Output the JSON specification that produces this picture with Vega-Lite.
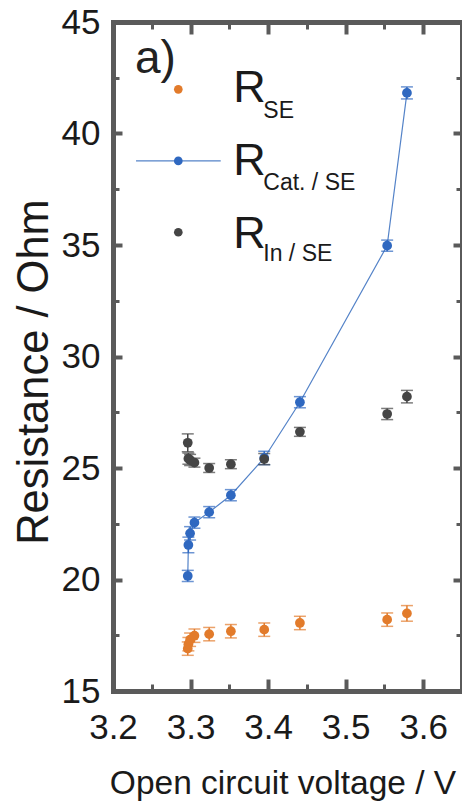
{
  "$schema": "https://vega.github.io/schema/vega-lite/v6.json",
  "width": 349,
  "height": 669,
  "autosize": {"type": "none"},
  "padding": {"left": 113, "top": 22, "right": 0, "bottom": 112},
  "background": "white",
  "config": {
    "view": {"stroke": null},
    "axis": {
      "grid": false,
      "domainColor": "#5a5a5a",
      "tickColor": "#5a5a5a",
      "domainWidth": 5,
      "domainCap": "square",
      "labelColor": "#1a1a1a",
      "titleColor": "#1a1a1a",
      "labelFont": "Liberation Sans",
      "titleFont": "Liberation Sans",
      "titleFontWeight": "normal",
      "labelFlush": false,
      "labelOverlap": false
    }
  },
  "datasets": {
    "d": [
      {"V": 3.2964, "s": "SE", "R": 16.9, "e": 0.3},
      {"V": 3.2972, "s": "SE", "R": 17.1, "e": 0.3},
      {"V": 3.2994, "s": "SE", "R": 17.3, "e": 0.3},
      {"V": 3.305, "s": "SE", "R": 17.48, "e": 0.3},
      {"V": 3.324, "s": "SE", "R": 17.55, "e": 0.3},
      {"V": 3.352, "s": "SE", "R": 17.68, "e": 0.3},
      {"V": 3.395, "s": "SE", "R": 17.75, "e": 0.3},
      {"V": 3.441, "s": "SE", "R": 18.05, "e": 0.3},
      {"V": 3.5535, "s": "SE", "R": 18.2, "e": 0.3},
      {"V": 3.579, "s": "SE", "R": 18.48, "e": 0.35},
      {"V": 3.2964, "s": "Cat", "R": 20.16, "e": 0.25},
      {"V": 3.2972, "s": "Cat", "R": 21.55, "e": 0.35},
      {"V": 3.2994, "s": "Cat", "R": 22.07, "e": 0.3},
      {"V": 3.305, "s": "Cat", "R": 22.55, "e": 0.25},
      {"V": 3.324, "s": "Cat", "R": 23.02, "e": 0.25},
      {"V": 3.352, "s": "Cat", "R": 23.78, "e": 0.25},
      {"V": 3.395, "s": "Cat", "R": 25.45, "e": 0.3},
      {"V": 3.441, "s": "Cat", "R": 27.95, "e": 0.25},
      {"V": 3.5535, "s": "Cat", "R": 34.97, "e": 0.25},
      {"V": 3.579, "s": "Cat", "R": 41.82, "e": 0.27},
      {"V": 3.2964, "s": "In", "R": 26.13, "e": 0.4},
      {"V": 3.2972, "s": "In", "R": 25.42, "e": 0.25},
      {"V": 3.2994, "s": "In", "R": 25.36, "e": 0.25},
      {"V": 3.305, "s": "In", "R": 25.24, "e": 0.2},
      {"V": 3.324, "s": "In", "R": 25.0, "e": 0.2},
      {"V": 3.352, "s": "In", "R": 25.17, "e": 0.2},
      {"V": 3.395, "s": "In", "R": 25.4, "e": 0.25},
      {"V": 3.441, "s": "In", "R": 26.62, "e": 0.2},
      {"V": 3.5535, "s": "In", "R": 27.42, "e": 0.25},
      {"V": 3.579, "s": "In", "R": 28.2, "e": 0.28}
    ]
  },
  "resolve": {"axis": {"x": "independent", "y": "independent"}},
  "layer": [
    {
      "data": {"name": "d"},
      "transform": [{"filter": "datum.s === 'Cat'"}],
      "mark": {"type": "line", "color": "#5483c8", "strokeWidth": 1.2},
      "encoding": {
        "x": {"field": "V", "type": "quantitative", "scale": {"domain": [3.2, 3.65], "nice": false, "zero": false},
          "axis": {"orient": "bottom", "values": [3.2, 3.3, 3.4, 3.5, 3.6], "format": ".1f", "tickSize": -12, "tickWidth": 4,
            "labelFontSize": 35, "labelPadding": 59, "labelBaseline": "alphabetic",
            "title": "Open circuit voltage / V", "titleFontSize": 33.5, "titleX": 169.5, "titleY": 102, "titleBaseline": "alphabetic", "titleAlign": "center"}},
        "y": {"field": "R", "type": "quantitative", "scale": {"domain": [15, 45], "nice": false, "zero": false},
          "axis": {"orient": "left", "values": [15, 20, 25, 30, 35, 40, 45], "tickSize": -9, "tickWidth": 4,
            "labelFontSize": 35, "labelPadding": 22, "labelBaseline": "middle",
            "title": "Resistance / Ohm", "titleFontSize": 43.5, "titleX": -66, "titleY": 349.5, "titleBaseline": "alphabetic", "titleAlign": "center"}}
      }
    },
    {
      "data": {"name": "d"},
      "mark": {"type": "errorbar", "thickness": 1.5, "ticks": {"size": 12, "thickness": 1.5}},
      "encoding": {
        "x": {"field": "V", "type": "quantitative", "scale": {"domain": [3.2, 3.65], "nice": false, "zero": false}, "axis": null},
        "y": {"field": "R", "type": "quantitative", "scale": {"domain": [15, 45], "nice": false, "zero": false}, "axis": null},
        "yError": {"field": "e"},
        "color": {"field": "s", "type": "nominal", "scale": {"domain": ["SE", "Cat", "In"], "range": ["#E27B2B", "#2F68C0", "#454545"]}, "legend": null}
      }
    },
    {
      "data": {"name": "d"},
      "mark": {"type": "point", "filled": true, "size": 95, "opacity": 1},
      "encoding": {
        "x": {"field": "V", "type": "quantitative", "scale": {"domain": [3.2, 3.65], "nice": false, "zero": false},
          "axis": {"orient": "top", "values": [3.3, 3.4, 3.5, 3.6], "tickSize": -12, "tickWidth": 4, "labels": false, "title": null}},
        "y": {"field": "R", "type": "quantitative", "scale": {"domain": [15, 45], "nice": false, "zero": false},
          "axis": {"orient": "right", "values": [20, 25, 30, 35, 40], "tickSize": -9, "tickWidth": 4, "labels": false, "title": null}},
        "color": {"field": "s", "type": "nominal", "scale": {"domain": ["SE", "Cat", "In"], "range": ["#E27B2B", "#2F68C0", "#454545"]}, "legend": null}
      }
    },
    {
      "data": {"values": [{}]},
      "mark": {"type": "rule", "color": "#5483c8", "strokeWidth": 1.2},
      "encoding": {
        "x": {"datum": 3.2297, "type": "quantitative", "scale": {"domain": [3.2, 3.65], "nice": false, "zero": false}, "axis": null},
        "x2": {"datum": 3.3389},
        "y": {"datum": 38.77, "type": "quantitative", "scale": {"domain": [15, 45], "nice": false, "zero": false}, "axis": null}
      }
    },
    {
      "data": {"values": [{}]},
      "mark": {"type": "point", "filled": true, "size": 75, "opacity": 1, "color": "#E27B2B"},
      "encoding": {
        "x": {"datum": 3.2842, "type": "quantitative", "scale": {"domain": [3.2, 3.65], "nice": false, "zero": false},
          "axis": {"orient": "bottom", "values": [3.25, 3.35, 3.45, 3.55], "tickSize": -7, "tickWidth": 3, "labels": false, "domain": false, "title": null}},
        "y": {"datum": 41.98, "type": "quantitative", "scale": {"domain": [15, 45], "nice": false, "zero": false},
          "axis": {"orient": "left", "values": [17.5, 22.5, 27.5, 32.5, 37.5, 42.5], "tickSize": -6, "tickWidth": 3, "labels": false, "domain": false, "title": null}}
      }
    },
    {
      "data": {"values": [{}]},
      "mark": {"type": "point", "filled": true, "size": 75, "opacity": 1, "color": "#2F68C0"},
      "encoding": {
        "x": {"datum": 3.2842, "type": "quantitative", "scale": {"domain": [3.2, 3.65], "nice": false, "zero": false},
          "axis": {"orient": "top", "values": [3.25, 3.35, 3.45, 3.55], "tickSize": -7, "tickWidth": 3, "labels": false, "domain": false, "title": null}},
        "y": {"datum": 38.77, "type": "quantitative", "scale": {"domain": [15, 45], "nice": false, "zero": false},
          "axis": {"orient": "right", "values": [17.5, 22.5, 27.5, 32.5, 37.5, 42.5], "tickSize": -6, "tickWidth": 3, "labels": false, "domain": false, "title": null}}
      }
    },
    {
      "data": {"values": [{}]},
      "mark": {"type": "point", "filled": true, "size": 75, "opacity": 1, "color": "#454545"},
      "encoding": {
        "x": {"datum": 3.2842, "type": "quantitative", "scale": {"domain": [3.2, 3.65], "nice": false, "zero": false}, "axis": null},
        "y": {"datum": 35.57, "type": "quantitative", "scale": {"domain": [15, 45], "nice": false, "zero": false}, "axis": null}
      }
    },
    {
      "data": {"values": [{}]},
      "mark": {"type": "text", "font": "Liberation Sans", "align": "left", "baseline": "alphabetic", "color": "#222222", "fontSize": 46, "text": "a)"},
      "encoding": {
        "x": {"datum": 3.2284, "type": "quantitative", "scale": {"domain": [3.2, 3.65], "nice": false, "zero": false}, "axis": null},
        "y": {"datum": 42.7, "type": "quantitative", "scale": {"domain": [15, 45], "nice": false, "zero": false}, "axis": null}
      }
    },
    {
      "data": {"values": [{}]},
      "mark": {"type": "text", "font": "Liberation Sans", "align": "left", "baseline": "alphabetic", "color": "#1a1a1a", "fontSize": 45, "text": "R"},
      "encoding": {
        "x": {"datum": 3.3551, "type": "quantitative", "scale": {"domain": [3.2, 3.65], "nice": false, "zero": false}, "axis": null},
        "y": {"datum": 41.43, "type": "quantitative", "scale": {"domain": [15, 45], "nice": false, "zero": false}, "axis": null}
      }
    },
    {
      "data": {"values": [{}]},
      "mark": {"type": "text", "font": "Liberation Sans", "align": "left", "baseline": "alphabetic", "color": "#1a1a1a", "fontSize": 45, "text": "R"},
      "encoding": {
        "x": {"datum": 3.3551, "type": "quantitative", "scale": {"domain": [3.2, 3.65], "nice": false, "zero": false}, "axis": null},
        "y": {"datum": 38.14, "type": "quantitative", "scale": {"domain": [15, 45], "nice": false, "zero": false}, "axis": null}
      }
    },
    {
      "data": {"values": [{}]},
      "mark": {"type": "text", "font": "Liberation Sans", "align": "left", "baseline": "alphabetic", "color": "#1a1a1a", "fontSize": 45, "text": "R"},
      "encoding": {
        "x": {"datum": 3.3551, "type": "quantitative", "scale": {"domain": [3.2, 3.65], "nice": false, "zero": false}, "axis": null},
        "y": {"datum": 34.85, "type": "quantitative", "scale": {"domain": [15, 45], "nice": false, "zero": false}, "axis": null}
      }
    },
    {
      "data": {"values": [{}]},
      "mark": {"type": "text", "font": "Liberation Sans", "align": "left", "baseline": "alphabetic", "color": "#1a1a1a", "fontSize": 23, "text": "SE"},
      "encoding": {
        "x": {"datum": 3.3938, "type": "quantitative", "scale": {"domain": [3.2, 3.65], "nice": false, "zero": false}, "axis": null},
        "y": {"datum": 40.68, "type": "quantitative", "scale": {"domain": [15, 45], "nice": false, "zero": false}, "axis": null}
      }
    },
    {
      "data": {"values": [{}]},
      "mark": {"type": "text", "font": "Liberation Sans", "align": "left", "baseline": "alphabetic", "color": "#1a1a1a", "fontSize": 23, "text": "Cat. / SE"},
      "encoding": {
        "x": {"datum": 3.3938, "type": "quantitative", "scale": {"domain": [3.2, 3.65], "nice": false, "zero": false}, "axis": null},
        "y": {"datum": 37.47, "type": "quantitative", "scale": {"domain": [15, 45], "nice": false, "zero": false}, "axis": null}
      }
    },
    {
      "data": {"values": [{}]},
      "mark": {"type": "text", "font": "Liberation Sans", "align": "left", "baseline": "alphabetic", "color": "#1a1a1a", "fontSize": 23, "text": "In / SE"},
      "encoding": {
        "x": {"datum": 3.3938, "type": "quantitative", "scale": {"domain": [3.2, 3.65], "nice": false, "zero": false}, "axis": null},
        "y": {"datum": 34.28, "type": "quantitative", "scale": {"domain": [15, 45], "nice": false, "zero": false}, "axis": null}
      }
    }
  ]
}
